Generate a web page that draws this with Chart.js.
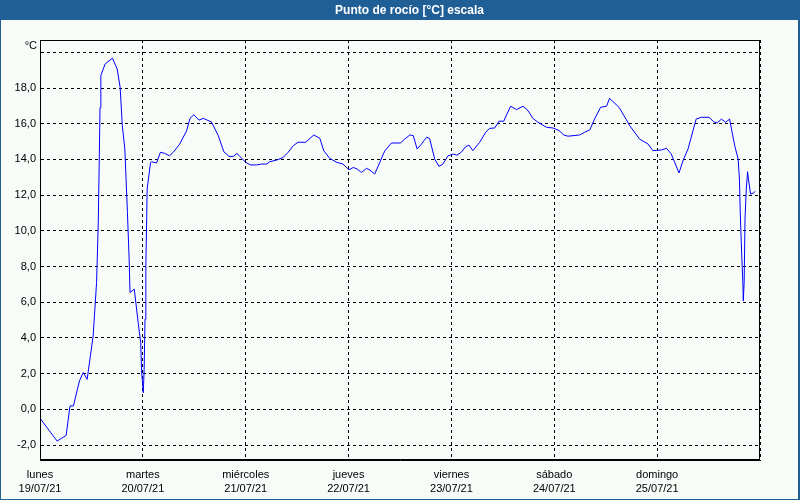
<!DOCTYPE html>
<html>
<head>
<meta charset="utf-8">
<script src="https://cdn.jsdelivr.net/npm/chart.js@4/dist/chart.umd.min.js"></script>
<style>
  html, body { margin: 0; padding: 0; background: #f8fcf8; }
  canvas { display: block; }
</style>
</head>
<body>
<canvas id="c" width="800" height="500"></canvas>
<script>
// Hours since lunes 19/07/21 00:00
const hours = [0, 4.0, 6.1, 7.0, 7.8, 9.2, 10.1, 11.0, 12.4, 13.2, 13.6, 13.8, 14.0, 14.2, 15.2, 16.9, 18.0, 18.7, 19.2, 19.8, 20.4, 20.8, 21.0, 22.0, 22.9, 23.5, 23.7, 24.1, 24.3, 24.5, 24.7, 24.9, 25.0, 25.8, 26.0, 27.2, 28.1, 29.1, 30.2, 31.1, 32.6, 34.2, 35.0, 35.9, 37.1, 38.1, 40.0, 41.6, 42.9, 44.1, 45.1, 46.0, 46.6, 48.0, 49.1, 50.5, 51.7, 52.9, 53.6, 55.2, 56.7, 57.9, 59.1, 60.2, 62.0, 63.0, 63.9, 65.3, 66.2, 67.6, 69.2, 70.7, 72.1, 73.1, 74.0, 75.0, 76.2, 77.0, 78.1, 79.3, 80.1, 80.5, 82.0, 84.1, 85.1, 86.3, 87.1, 88.0, 89.0, 90.2, 90.9, 92.1, 93.1, 94.0, 95.2, 96.4, 97.3, 98.3, 99.3, 100.1, 101.0, 102.6, 104.0, 104.9, 106.1, 107.1, 108.2, 109.8, 111.2, 112.7, 113.9, 115.0, 116.2, 118.2, 119.7, 121.1, 122.2, 123.2, 125.9, 127.1, 128.3, 129.4, 130.8, 132.2, 132.9, 135.1, 136.8, 137.6, 139.9, 141.9, 143.0, 145.0, 146.2, 147.3, 149.1, 150.1, 151.2, 153.1, 154.3, 156.1, 157.2, 158.0, 159.0, 160.0, 160.9, 162.1, 162.9, 163.2, 163.4, 163.7, 164.0, 164.1, 164.3, 164.5, 164.8, 165.1, 165.3, 165.8, 166.4, 166.9];
const dewPoint = [-0.5, -1.78, -1.46, 0.19, 0.19, 1.59, 2.06, 1.68, 4.11, 7.1, 10.5, 13.6, 16.9, 18.7, 19.35, 19.67, 19.07, 18.04, 15.9, 14.58, 11.03, 8.41, 6.54, 6.73, 4.86, 3.74, 2.15, 0.93, 2.24, 5.05, 8.04, 10.75, 12.34, 13.84, 13.87, 13.8, 14.4, 14.34, 14.2, 14.4, 14.86, 15.6, 16.3, 16.5, 16.2, 16.3, 16.1, 15.33, 14.43, 14.17, 14.17, 14.34, 14.17, 13.84, 13.69, 13.69, 13.74, 13.74, 13.87, 13.96, 14.1, 14.4, 14.77, 14.96, 14.96, 15.18, 15.37, 15.18, 14.49, 14.06, 13.84, 13.74, 13.42, 13.55, 13.46, 13.27, 13.5, 13.4, 13.18, 13.84, 14.3, 14.49, 14.92, 14.92, 15.14, 15.37, 15.33, 14.58, 14.86, 15.24, 15.18, 14.02, 13.61, 13.74, 14.2, 14.3, 14.24, 14.4, 14.71, 14.8, 14.49, 14.96, 15.52, 15.74, 15.76, 16.14, 16.14, 16.98, 16.79, 16.98, 16.73, 16.3, 16.08, 15.8, 15.76, 15.62, 15.37, 15.3, 15.37, 15.52, 15.66, 16.26, 16.92, 16.98, 17.42, 16.92, 16.23, 15.89, 15.14, 14.86, 14.49, 14.53, 14.62, 14.3, 13.24, 13.98, 14.58, 16.26, 16.36, 16.36, 16.11, 16.04, 16.26, 16.08, 16.26, 14.77, 14.02, 12.9, 10.94, 8.88, 7.07, 6.07, 7.1, 10.66, 12.34, 13.31, 12.9, 12.06, 12.11, 12.21];

const dayNames = ['lunes', 'martes', 'miércoles', 'jueves', 'viernes', 'sábado', 'domingo'];
const dayDates = ['19/07/21', '20/07/21', '21/07/21', '22/07/21', '23/07/21', '24/07/21', '25/07/21'];
const yTicks = [-2, 0, 2, 4, 6, 8, 10, 12, 14, 16, 18, 20];
const titleText = 'Punto de rocío [°C] escala';
const unitText = '°C';

const FONT = '"Liberation Sans", Arial, sans-serif';
const BLUE = '#1f5f96';
const BG = '#f8fcf8';

const points = hours.map((h, i) => ({ x: h, y: dewPoint[i] }));

const framePlugin = {
  id: 'frame',
  beforeDraw(chart) {
    const ctx = chart.ctx;
    ctx.save();
    ctx.fillStyle = BG;
    ctx.fillRect(0, 0, chart.width, chart.height);
    ctx.fillStyle = BLUE;
    ctx.fillRect(0, 0, chart.width, 20);
    ctx.fillRect(0, 0, 1, chart.height);
    ctx.fillRect(chart.width - 2, 0, 2, chart.height);
    ctx.fillRect(0, chart.height - 1, chart.width, 1);
    ctx.fillStyle = '#ffffff';
    ctx.font = 'bold 12px ' + FONT;
    ctx.textAlign = 'center';
    ctx.textBaseline = 'middle';
    ctx.fillText(titleText, 409.5, 10.5);
    ctx.restore();
  },
  afterDraw(chart) {
    const ctx = chart.ctx;
    const a = chart.chartArea;
    ctx.save();
    ctx.strokeStyle = '#000000';
    ctx.lineWidth = 1;
    ctx.setLineDash([]);
    ctx.strokeRect(Math.round(a.left) + 0.5, Math.round(a.top) + 0.5,
      Math.round(a.right - a.left) - 1, Math.round(a.bottom - a.top) - 1);
    ctx.fillStyle = '#000000';
    ctx.font = '11px ' + FONT;
    ctx.textAlign = 'right';
    ctx.textBaseline = 'middle';
    ctx.fillText(unitText, a.left - 3, a.top + 6);
    ctx.restore();
  }
};

new Chart(document.getElementById('c'), {
  type: 'line',
  data: {
    datasets: [{
      data: points,
      borderColor: '#0000ff',
      borderWidth: 1,
      pointRadius: 0,
      tension: 0,
      fill: false
    }]
  },
  options: {
    responsive: false,
    animation: false,
    layout: { padding: { left: 0, right: 40, top: 40, bottom: 0 } },
    plugins: { legend: { display: false }, title: { display: false }, tooltip: { enabled: false } },
    scales: {
      x: {
        type: 'linear',
        min: 0,
        max: 168,
        afterBuildTicks(scale) {
          scale.ticks = [0, 24, 48, 72, 96, 120, 144, 168].map(v => ({ value: v }));
        },
        afterFit(scale) { scale.height = 40; },
        grid: {
          color: '#000000',
          lineWidth: 1,
          drawTicks: false,
          tickBorderDash: [3, 3]
        },
        border: { display: true, color: '#000000', dash: [3, 3], width: 1 },
        ticks: {
          autoSkip: false,
          maxRotation: 0,
          padding: 8,
          color: '#000000',
          font: { family: FONT, size: 11, lineHeight: 1.3 },
          callback(v) {
            const d = Math.round(v / 24);
            return d < 7 ? [dayNames[d], dayDates[d]] : '';
          }
        }
      },
      y: {
        type: 'linear',
        min: -2.84,
        max: 20.69,
        afterBuildTicks(scale) {
          scale.ticks = yTicks.map(v => ({ value: v }));
        },
        afterFit(scale) { scale.width = 40; },
        grid: { color: '#000000', lineWidth: 1, drawTicks: false },
        border: { display: true, color: '#000000', dash: [3, 3], width: 1 },
        ticks: {
          padding: 4,
          color: '#000000',
          font: { family: FONT, size: 11 },
          callback(v) { return v === 20 ? '' : v.toFixed(1).replace('.', ','); }
        }
      }
    }
  },
  plugins: [framePlugin]
});
</script>
</body>
</html>
